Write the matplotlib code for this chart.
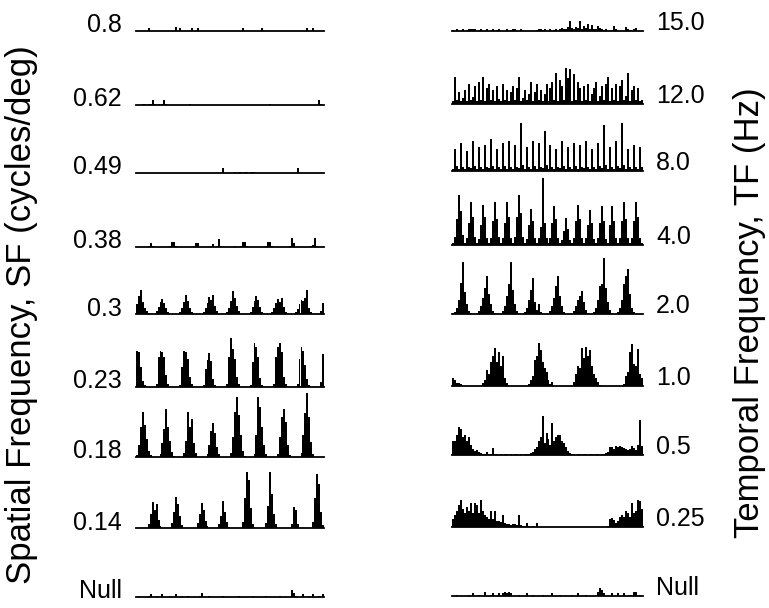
import matplotlib
matplotlib.use("Agg")
import matplotlib.pyplot as plt
import numpy as np

plt.rcParams['font.family'] = ['Liberation Sans', 'DejaVu Sans']

# spike counts per bin (96 bins per histogram)
# left column : spatial frequency (cycles/deg)
sf_labels = ["0.8", "0.62", "0.49", "0.38", "0.3", "0.23", "0.18", "0.14", "Null"]

sf_080 = [0,0,0,0,0,0,3,0,0,0,0,0,0,0,0,0,0,0,0,0,4,0,3,0,
          0,0,0,0,3,0,0,3,0,0,0,0,0,0,0,0,0,0,0,0,0,0,0,0,
          0,0,0,0,0,0,3,0,0,0,0,0,0,0,0,0,3,0,0,0,0,0,0,0,
          0,0,0,0,0,0,0,0,0,0,0,0,0,0,0,3,0,0,3,0,0,0,0,0]
sf_062 = [0,0,0,1,1,0,1,1,5,1,0,1,0,1,5,1,0,0,0,0,0,0,0,0,
          0,0,0,1,0,0,0,0,0,0,0,0,0,0,0,0,0,0,0,0,0,0,0,0,
          0,0,0,0,0,0,0,0,0,0,0,0,0,0,0,0,0,0,0,0,1,0,0,0,
          0,0,0,0,0,0,0,0,0,0,0,0,0,0,0,0,0,0,0,0,0,5,1,0]
sf_049 = [0,0,0,0,0,0,0,0,0,0,0,0,0,0,0,0,0,0,0,0,0,0,0,0,
          0,0,0,0,0,0,0,0,0,0,0,0,0,0,0,0,0,0,0,0,5,0,0,0,
          0,0,1,0,1,1,0,1,1,0,1,1,1,0,0,0,0,0,0,0,0,0,0,0,
          0,0,0,0,0,0,0,0,0,0,5,0,0,0,0,0,0,0,0,0,0,0,0,0]
sf_038 = [0,0,0,0,0,0,1,4,1,0,0,0,0,0,0,0,0,1,5,5,1,0,0,0,
          0,0,0,0,0,1,4,4,0,0,0,0,0,0,1,3,0,1,8,1,0,0,0,0,
          0,0,1,0,0,1,5,5,1,0,0,0,0,0,0,0,0,0,1,5,5,1,0,0,
          0,0,0,0,0,0,1,9,4,0,0,0,0,0,0,0,0,1,2,9,1,0,0,0]
sf_030 = [10,18,24,12,6,3,1,0,0,0,3,7,12,15,11,6,2,0,0,0,0,0,2,6,
          12,19,13,6,2,0,0,0,0,0,2,6,11,17,14,19,8,3,0,0,0,0,2,6,
          13,23,16,8,3,0,0,0,0,0,2,7,13,18,14,7,2,0,0,0,0,2,6,11,
          15,12,16,7,2,0,0,0,0,2,5,10,14,13,16,24,6,2,0,0,0,0,3,11]
sf_023 = [36,35,20,6,2,0,0,0,0,0,3,30,36,35,30,12,3,0,0,0,0,0,2,20,
          36,35,28,10,3,0,0,0,0,0,2,18,27,34,26,8,2,0,0,0,0,0,3,30,
          49,38,28,10,3,0,0,0,0,0,2,25,44,40,30,9,2,0,0,0,0,0,3,30,
          40,44,35,10,3,0,0,0,0,0,3,28,40,36,22,8,2,0,0,0,0,0,5,33]
sf_018 = [2,12,30,45,32,18,6,2,0,0,0,0,3,14,28,48,30,16,5,1,0,0,0,0,
          4,16,45,30,38,14,4,0,0,0,0,0,3,12,26,34,24,10,3,0,0,0,0,0,
          4,20,45,60,42,22,6,1,0,0,0,0,3,22,60,50,30,12,3,0,0,0,0,0,
          3,20,40,48,35,12,2,0,0,0,0,0,4,22,44,64,40,15,3,0,0,0,0,0]
sf_014 = [0,0,0,0,0,0,4,14,26,18,24,8,2,0,0,0,0,0,5,16,31,24,12,3,
          0,0,0,0,0,0,0,5,14,25,18,7,2,0,0,0,0,0,4,12,27,16,6,1,
          0,0,0,0,0,0,6,30,56,48,20,4,0,0,0,0,0,0,5,22,56,34,14,4,
          0,0,0,0,0,0,0,4,21,18,4,0,0,0,0,0,0,0,6,30,54,44,16,3]
sf_null = [0,1,0,0,0,0,1,3,0,0,1,0,0,3,0,0,0,1,0,0,3,0,0,1,
           0,0,1,0,0,0,0,0,1,4,0,0,0,1,0,0,0,0,0,0,1,0,0,0,
           0,0,0,0,1,0,0,0,0,0,0,1,0,0,0,0,0,0,1,0,0,0,0,0,
           0,1,0,0,0,0,0,7,4,1,0,0,0,3,0,0,1,0,3,0,0,1,0,3]

# right column : temporal frequency (Hz)
tf_labels = ["15.0", "12.0", "8.0", "4.0", "2.0", "1.0", "0.5", "0.25", "Null"]

tf_150 = [1,0,2,0,0,2,0,1,2,2,2,2,0,1,2,0,0,2,0,0,2,0,1,2,
          0,0,0,2,0,1,2,2,0,0,2,0,0,0,0,0,0,0,1,2,2,1,2,0,
          0,2,0,1,2,0,2,3,2,2,4,10,3,2,4,3,10,2,5,3,7,2,6,2,
          2,5,3,2,1,2,0,0,1,5,2,0,0,0,0,4,2,1,0,2,3,0,0,0]
tf_120 = [3,27,4,12,3,6,14,3,20,4,7,18,3,22,4,27,3,16,20,4,14,3,18,5,
          3,20,4,14,3,12,18,4,16,27,3,6,14,4,10,22,3,12,20,4,14,3,10,20,
          3,16,22,4,31,3,24,18,4,36,26,35,3,30,4,22,16,3,18,4,20,3,10,16,
          22,3,8,18,4,20,27,3,16,4,20,3,18,24,4,8,31,3,14,18,4,16,3,4]
tf_080 = [2,22,5,2,28,4,2,20,4,3,30,5,2,24,4,2,26,4,3,32,5,2,22,4,
          2,28,5,2,30,4,2,26,4,3,48,6,2,24,4,2,30,5,2,28,4,3,40,6,
          2,26,4,2,22,4,3,30,5,2,24,4,2,28,5,2,26,4,3,30,4,2,22,4,
          2,28,5,3,46,6,2,24,4,2,30,5,3,48,6,2,22,4,2,26,4,2,24,4]
tf_040 = [2,8,26,50,34,10,2,7,22,43,28,8,2,6,20,40,28,7,2,7,24,43,26,8,
          2,7,22,43,28,7,2,8,28,50,32,8,2,6,20,36,24,7,2,7,18,67,22,7,
          2,7,22,39,26,7,2,5,14,27,16,5,2,7,24,40,26,7,2,7,20,35,22,6,
          2,7,22,39,24,6,2,20,39,24,7,2,7,24,43,26,7,2,7,24,43,28,7,2]
tf_020 = [1,2,6,14,31,52,22,10,3,1,0,0,1,3,8,16,26,38,20,10,3,1,0,0,
          0,3,8,18,30,52,24,10,3,0,0,0,2,6,14,24,36,12,4,10,2,0,0,0,
          0,3,8,16,28,38,18,8,2,0,0,0,0,3,8,14,18,23,12,4,1,0,0,2,
          6,14,28,30,56,26,12,4,1,0,0,2,6,14,30,38,45,20,6,2,0,0,0,0]
tf_010 = [8,6,3,3,2,0,0,0,0,0,0,0,0,0,0,3,6,16,12,24,30,38,24,34,
          20,30,8,3,0,0,0,0,0,0,0,0,0,0,2,6,10,26,30,43,36,24,18,14,
          6,2,4,0,0,0,0,0,0,0,0,0,0,4,12,20,18,38,28,39,30,36,20,12,
          8,4,1,0,0,0,0,0,0,0,0,0,0,0,2,10,14,34,42,22,20,37,12,8]
tf_005 = [14,14,20,28,26,18,20,14,18,10,6,4,5,3,2,1,1,3,1,1,7,1,1,0,
          1,0,1,1,0,1,0,1,1,0,1,0,1,1,1,2,3,6,8,14,18,39,12,22,
          16,10,32,14,18,20,20,14,12,8,4,2,1,1,0,1,1,0,1,1,0,1,1,0,
          1,1,0,1,1,2,3,8,8,6,9,8,9,8,7,6,5,6,9,7,5,10,35,9]
tf_0025 = [8,12,16,22,27,18,14,20,16,24,14,24,22,14,27,16,12,10,8,16,8,16,6,6,
           5,12,4,3,3,2,3,3,2,12,2,1,1,4,1,0,1,0,4,0,0,0,0,0,
           0,0,0,0,0,0,0,0,0,0,0,0,0,0,0,0,0,0,0,0,0,0,0,0,
           0,0,0,0,0,0,1,8,9,7,4,6,10,12,10,16,14,10,24,14,16,27,26,18]
tf_null = [0,0,1,0,0,0,0,0,1,0,3,0,0,1,0,0,4,0,0,1,3,0,0,3,
           0,3,4,3,4,3,0,0,0,1,0,0,0,3,0,0,1,0,0,0,0,1,0,0,
           0,0,3,0,0,0,1,0,0,0,0,0,1,0,0,3,0,0,0,1,0,0,0,0,
           0,4,8,6,3,0,0,0,3,0,0,3,0,0,3,0,0,1,0,4,4,0,1,0]

sf_data = [sf_080, sf_062, sf_049, sf_038, sf_030, sf_023, sf_018, sf_014, sf_null]
tf_data = [tf_150, tf_120, tf_080, tf_040, tf_020, tf_010, tf_005, tf_0025, tf_null]

# layout in pixels (figure 769 x 608)
W, H = 769, 608
left_base = [31, 105, 173, 247, 314, 387, 457, 528, 597]
right_base = [31, 104, 171, 245, 314, 386, 455, 527, 596]
panel_h = 70

fig = plt.figure(figsize=(W / 100, H / 100), dpi=100)


def histo(x0, x1, base, counts):
    ax = fig.add_axes([x0 / W, (H - base) / H, (x1 - x0) / W, panel_h / H])
    ax.bar(np.arange(len(counts)), counts, width=1.0, align='edge',
           color='black', linewidth=0)
    ax.axhline(0, color='black', lw=1.3, clip_on=False)
    ax.set_xlim(0, len(counts))
    ax.set_ylim(0, panel_h)
    ax.axis('off')
    return ax


for lab, counts, b in zip(sf_labels, sf_data, left_base):
    histo(136, 324, b, counts)
    fig.text(122 / W, (H - b + 5.5) / H, lab, ha='right', va='center', fontsize=18)

for lab, counts, b in zip(tf_labels, tf_data, right_base):
    histo(452, 643, b, counts)
    fig.text(656 / W, (H - b + 8) / H, lab, ha='left', va='center', fontsize=18)

fig.text(22 / W, (H - 315) / H, "Spatial Frequency, SF (cycles/deg)",
         rotation=90, ha='center', va='center', fontsize=25)
fig.text(750 / W, (H - 313) / H, "Temporal Frequency, TF (Hz)",
         rotation=90, ha='center', va='center', fontsize=25)

fig.savefig("out.png", dpi=100)
